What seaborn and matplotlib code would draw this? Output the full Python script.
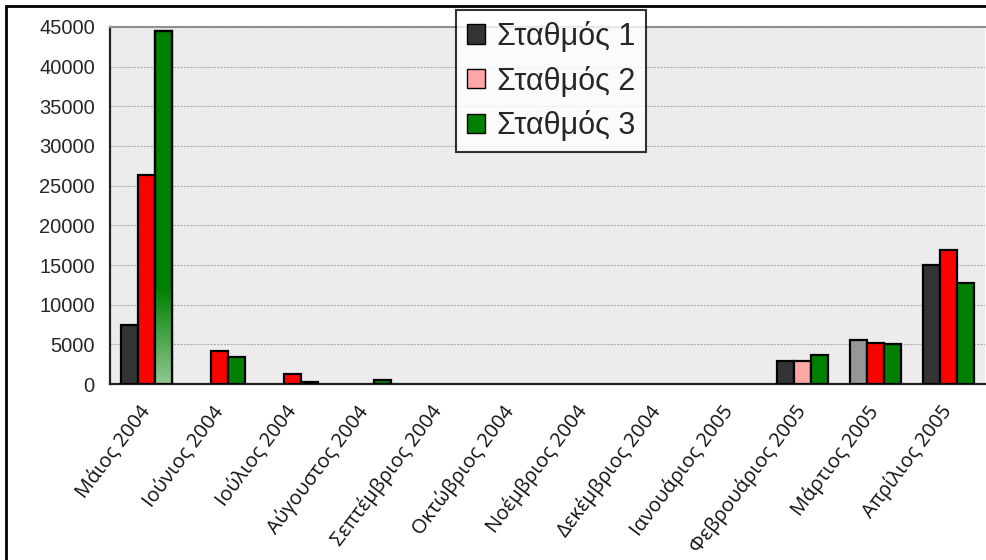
import numpy as np
import pandas as pd
import matplotlib
matplotlib.use("Agg")
import matplotlib.pyplot as plt
import seaborn as sns
from matplotlib.patches import Patch, Rectangle
from matplotlib.colors import LinearSegmentedColormap

months = ["Μάιος 2004", "Ιούνιος 2004", "Ιούλιος 2004", "Αύγουστος 2004",
          "Σεπτέμβριος 2004", "Οκτώβριος 2004", "Νοέμβριος 2004", "Δεκέμβριος 2004",
          "Ιανουάριος 2005", "Φεβρουάριος 2005", "Μάρτιος 2005", "Απρίλιος 2005"]
stations = ["Σταθμός 1", "Σταθμός 2", "Σταθμός 3"]
st1 = [7500, 0, 0, 0, 0, 0, 0, 0, 0, 2900, 5500, 15000]
st2 = [26300, 4150, 1250, 0, 0, 0, 0, 0, 0, 2900, 5150, 16900]
st3 = [44500, 3400, 300, 550, 0, 0, 0, 0, 0, 3650, 5100, 12800]

df = pd.DataFrame({
    "month": months * 3,
    "station": np.repeat(stations, len(months)),
    "value": st1 + st2 + st3,
})

sns.set_style("white")
plt.rcParams['font.family'] = ['Liberation Sans', 'DejaVu Sans']

fig = plt.figure(figsize=(9.87, 5.6), dpi=100)
ax = fig.add_axes([0.1115, 0.314, 0.886, 0.638])
ax.set_facecolor("#ECECEC")

pal = ["#333333", "#FF0000", "#008000"]
sns.barplot(data=df, x="month", y="value", hue="station", palette=pal,
            width=0.7, edgecolor="black", linewidth=1.6, saturation=1, ax=ax,
            legend=False, zorder=3)

# zero bars are not drawn in the original
for cont in ax.containers:
    for bar in cont:
        if bar.get_height() == 0:
            bar.set_visible(False)

# odd colours in the original
ax.containers[1][9].set_facecolor("#FFA6A6")
ax.containers[0][10].set_facecolor("#969696")

# fading bottom of the first green bar
b = ax.containers[2][0]
x0, w = b.get_x(), b.get_width()
cmap = LinearSegmentedColormap.from_list("g", ["#90C890", "#008000"])
grad = np.linspace(0, 1, 100).reshape(-1, 1)
ax.imshow(grad, extent=[x0, x0 + w, 0, 12000], origin="lower", cmap=cmap,
          aspect="auto", zorder=3.5)
ax.add_patch(Rectangle((x0, 0), w, st3[0], fill=False, edgecolor="black",
                       linewidth=1.6, zorder=4))

ax.set_xlim(-0.5, len(months) - 0.5)
ax.set_ylim(0, 45000)
ax.set_yticks(np.arange(0, 45001, 5000))
ax.yaxis.grid(True, color="#B0B0B0", linestyle=(0, (2, 1)), linewidth=0.8, zorder=0)
ax.set_axisbelow(True)

ax.set_xticks(range(len(months)))
ax.set_xticklabels(months, rotation=53, ha="right", va="center", rotation_mode="anchor",
                   fontsize=14.5, family=["Open Sans", "DejaVu Sans"], color="#111111")
ax.set_xticks(np.arange(-0.5, len(months), 1), minor=True)
ax.tick_params(axis="x", which="major", length=0, pad=17)
ax.tick_params(axis="x", which="minor", length=5, width=1.5, color="black", direction="out")
ax.tick_params(axis="y", length=5, width=1.5, color="black", direction="out",
               labelsize=14.5, pad=6)
ax.set_xlabel("")
ax.set_ylabel("")

for s in ["left", "bottom"]:
    ax.spines[s].set_color("#222222")
    ax.spines[s].set_linewidth(1.6)
ax.spines["top"].set_color("#909090")
ax.spines["top"].set_linewidth(1.5)
ax.spines["right"].set_visible(False)

handles = [Patch(facecolor=c, edgecolor="black", linewidth=1) for c in ["#333333", "#FFA6A6", "#008000"]]
leg = fig.legend(handles, stations, loc="upper left", bbox_to_anchor=(0.462, 0.982),
                 fontsize=22, frameon=True, fancybox=False, edgecolor="black",
                 handlelength=0.6, handleheight=0.6, handletextpad=0.4,
                 labelspacing=0.45, borderpad=0.35, borderaxespad=0)
leg.get_frame().set_linewidth(1.5)
leg.set_zorder(10)

fig.patches.append(Rectangle((6 / 987, -0.1), 1.2, 1 - 6 / 560 + 0.1,
                             transform=fig.transFigure, fill=False,
                             edgecolor="black", linewidth=2))

fig.savefig("out.png", dpi=100)
